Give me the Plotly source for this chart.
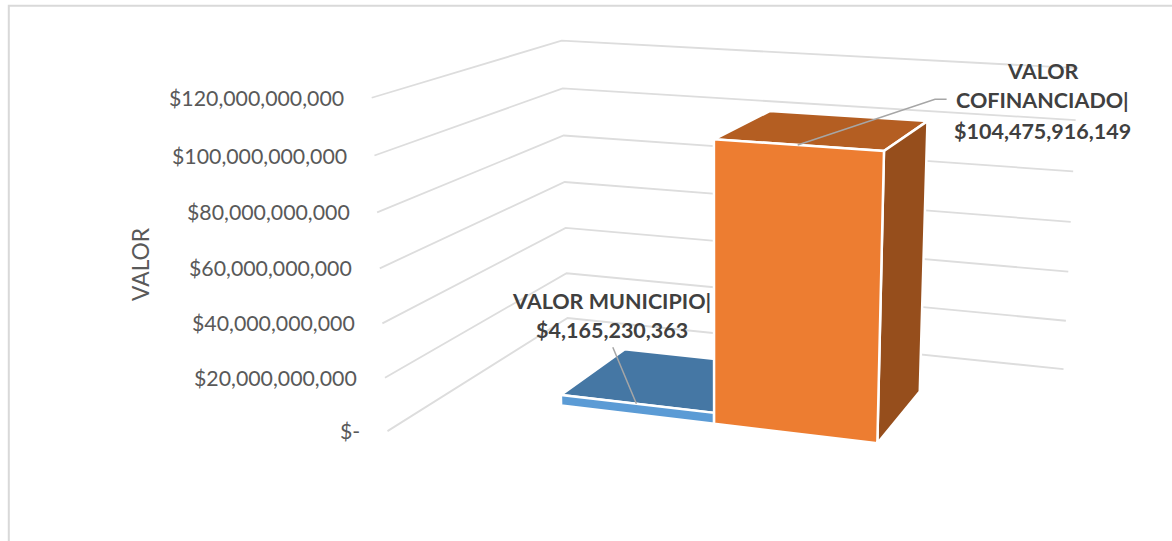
import numpy as np
import plotly.graph_objects as go

categories = ["VALOR MUNICIPIO", "VALOR COFINANCIADO"]
values = [4165230363, 104475916149]
value_max = 120e9
tick_vals = [0, 20e9, 40e9, 60e9, 80e9, 100e9, 120e9]
tick_text = ["$-", "$20,000,000,000", "$40,000,000,000", "$60,000,000,000",
             "$80,000,000,000", "$100,000,000,000", "$120,000,000,000"]
axis_title = "VALOR"

# Perspective camera of the 3-D chart (world units: z spans 1, depth/width by aspect)
R = np.array([[0.94696, 0.32130, 0.00570],
              [0.08661, -0.23810, -0.96737],
              [-0.30946, 0.91656, -0.25330]])
T = np.array([-0.05175, -0.08194, 5.75678])
FOCAL, CX, CY = 1874.70, 760.85, 270.5
WIDTH, DEPTH = 1.79141, 1.28667
# bar slots along the category axis and bar extent along the depth axis (0..1)
SLOTS = [0.21577, 0.49743, 0.78175]
BAR_DEPTH = (0.30173, 0.69805)


def proj(x, y, val):
    X = np.array([(x - .5) * WIDTH, (y - .5) * DEPTH, val / value_max - .5])
    c = R @ X + T
    return CX + FOCAL * c[0] / c[2], CY + FOCAL * c[1] / c[2]


def line_trace(pts, color, width, **kw):
    return go.Scatter(x=[q[0] for q in pts], y=[q[1] for q in pts], mode="lines",
                      line=dict(color=color, width=width), hoverinfo="skip", **kw)


fig = go.Figure()

# gridlines on side wall + back wall
for v in tick_vals:
    fig.add_trace(line_trace([proj(0, 0, v), proj(0, 1, v), proj(1, 1, v)], "#DDDDDD", 1.8))

# bars
styles = [("#5B9BD5", "#4577A4", "#3B6A95"), ("#ED7D31", "#B45E22", "#964E1C")]
v0, v1 = BAR_DEPTH
for b, val in enumerate(values):
    a, e = SLOTS[b], SLOTS[b + 1]
    front, top, side = styles[b]
    faces = [([(a, v0, val), (e, v0, val), (e, v1, val), (a, v1, val)], top),
             ([(e, v0, 0), (e, v1, 0), (e, v1, val), (e, v0, val)], side),
             ([(a, v0, 0), (e, v0, 0), (e, v0, val), (a, v0, val)], front)]
    for poly, col in faces:
        q = [proj(*pp) for pp in poly]
        q.append(q[0])
        fig.add_trace(line_trace(q, "white", 2.5, fill="toself", fillcolor=col, name=categories[b]))

# leader lines from the middle of each bar's top-front edge
LEADER_COLOR = "#A6A6A6"
anchor_b = proj((SLOTS[0] + SLOTS[1]) / 2, v0, values[0])
anchor_o = proj((SLOTS[1] + SLOTS[2]) / 2, v0, values[1])
fig.add_trace(line_trace([anchor_b, (612.8, 347.3)], LEADER_COLOR, 1.5))
fig.add_trace(line_trace([anchor_o, (935, 99.3), (946.6, 99.3)], LEADER_COLOR, 1.5))

annotations = []
for v, s in zip(tick_vals, tick_text):
    px, py = proj(0, 0, v)
    annotations.append(dict(x=px - 25.5, y=py, text=s, showarrow=False, xanchor="right", yanchor="middle",
                            font=dict(family="Lato", size=21.3, color="#595959")))
annotations.append(dict(x=140, y=264, text=axis_title, textangle=-90, showarrow=False,
                        font=dict(family="Lato", size=22.8, color="#595959")))
label_lines = [("VALOR", 1043, 71), ("COFINANCIADO|", 1042.5, 100), ("$104,475,916,149", 1042.5, 130.7),
               ("VALOR MUNICIPIO|", 611, 300.7), ("$4,165,230,363", 612, 330)]
for s, x, y in label_lines:
    annotations.append(dict(x=x, y=y, text="<b>%s</b>" % s, showarrow=False,
                            font=dict(family="Lato", size=21.5, color="#404040")))

fig.update_layout(
    width=1172, height=541, margin=dict(l=0, r=0, t=0, b=0),
    paper_bgcolor="white", plot_bgcolor="white", showlegend=False,
    xaxis=dict(visible=False, range=[0, 1172]),
    yaxis=dict(visible=False, range=[541, 0]),
    annotations=annotations,
    shapes=[dict(type="path", xref="x", yref="y", path="M 8.8 560 L 8.8 5.7 L 1190 5.7",
                 line=dict(color="#D9D9D9", width=2))],
)
fig.write_html("out.html", config=dict(displayModeBar=False),
               post_script="document.body.style.margin='0';document.body.style.overflow='hidden';")
